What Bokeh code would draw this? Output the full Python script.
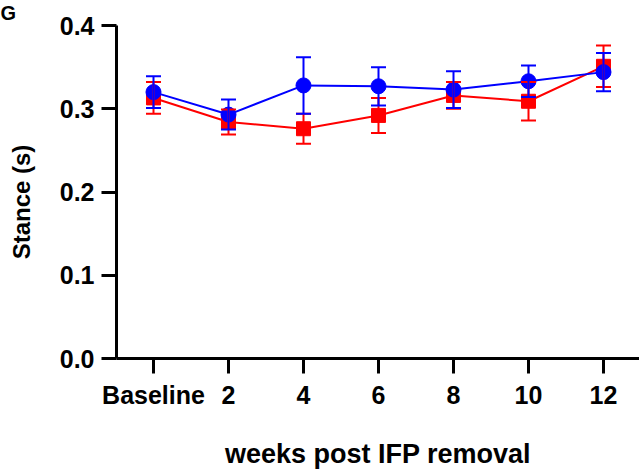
from bokeh.plotting import figure
from bokeh.models import (ColumnDataSource, Whisker, TeeHead, FixedTicker, Title,
                          Range1d, NumeralTickFormatter)
from bokeh.embed import file_html
from bokeh.resources import INLINE

# ---- data ----
weeks = ["Baseline", "2", "4", "6", "8", "10", "12"]
red_mean = [0.313, 0.284, 0.276, 0.292, 0.316, 0.309, 0.351]
red_err = [0.019, 0.015, 0.018, 0.021, 0.016, 0.023, 0.025]
blue_mean = [0.320, 0.293, 0.328, 0.327, 0.323, 0.333, 0.344]
blue_err = [0.019, 0.018, 0.034, 0.023, 0.022, 0.019, 0.023]
y_ticks = [0.0, 0.1, 0.2, 0.3, 0.4]

RED = "#FF0000"
BLUE = "#0000FF"
FONT = "Liberation Sans"

xs = list(range(len(weeks)))

p = figure(width=639, height=471,
           x_range=Range1d(-0.4933, 6.48), y_range=Range1d(0, 0.4),
           output_backend="svg", toolbar_location=None,
           min_border_left=116, min_border_right=0,
           min_border_top=25, min_border_bottom=111)
p.outline_line_color = None
p.xgrid.visible = False
p.ygrid.visible = False


def series(mean, err, color, marker, size):
    src = ColumnDataSource(dict(
        x=xs, y=mean,
        upper=[m + e for m, e in zip(mean, err)],
        lower=[m - e for m, e in zip(mean, err)],
    ))
    w = Whisker(source=src, base="x", upper="upper", lower="lower",
                line_color=color, line_width=2, level="glyph",
                upper_head=TeeHead(size=15, line_color=color, line_width=2),
                lower_head=TeeHead(size=15, line_color=color, line_width=2))
    p.add_layout(w)
    p.line("x", "y", source=src, line_color=color, line_width=2)
    p.scatter("x", "y", source=src, marker=marker, size=size,
              fill_color=color, line_color=color)


series(red_mean, red_err, RED, "square", 14)
series(blue_mean, blue_err, BLUE, "circle", 15)

# ---- axes ----
for ax in (p.xaxis[0], p.yaxis[0]):
    ax.axis_line_width = 3
    ax.axis_line_color = "black"
    ax.major_tick_line_width = 3
    ax.major_tick_line_color = "black"
    ax.major_tick_out = 15
    ax.major_tick_in = 0
    ax.minor_tick_line_color = None
    ax.major_label_text_font = FONT
    ax.major_label_text_font_style = "bold"
    ax.major_label_text_font_size = "25px"
    ax.major_label_text_color = "black"

xa = p.xaxis[0]
xa.ticker = FixedTicker(ticks=xs)
xa.major_label_overrides = {i: w for i, w in enumerate(weeks)}
xa.major_label_standoff = 7
xa.axis_label = "weeks post IFP removal"
xa.axis_label_text_font = FONT
xa.axis_label_text_font_style = "bold"
xa.axis_label_text_font_size = "27px"
xa.axis_label_text_color = "black"
xa.axis_label_standoff = 27

ya = p.yaxis[0]
ya.ticker = FixedTicker(ticks=y_ticks)
ya.formatter = NumeralTickFormatter(format="0.0")
ya.major_label_standoff = 7
ya.axis_label = "Stance (s)\u00a0\u00a0\u00a0"
ya.axis_label_text_font = FONT
ya.axis_label_text_font_style = "bold"
ya.axis_label_text_font_size = "24px"
ya.axis_label_text_color = "black"
ya.axis_label_standoff = 22

# panel letter in the top-left corner
p.add_layout(Title(text="G", align="left", vertical_align="top",
                   offset=-116, standoff=0,
                   text_font=FONT, text_font_style="bold",
                   text_font_size="20px", text_color="black"), "above")

open("out.html", "w").write(file_html(p, INLINE))
